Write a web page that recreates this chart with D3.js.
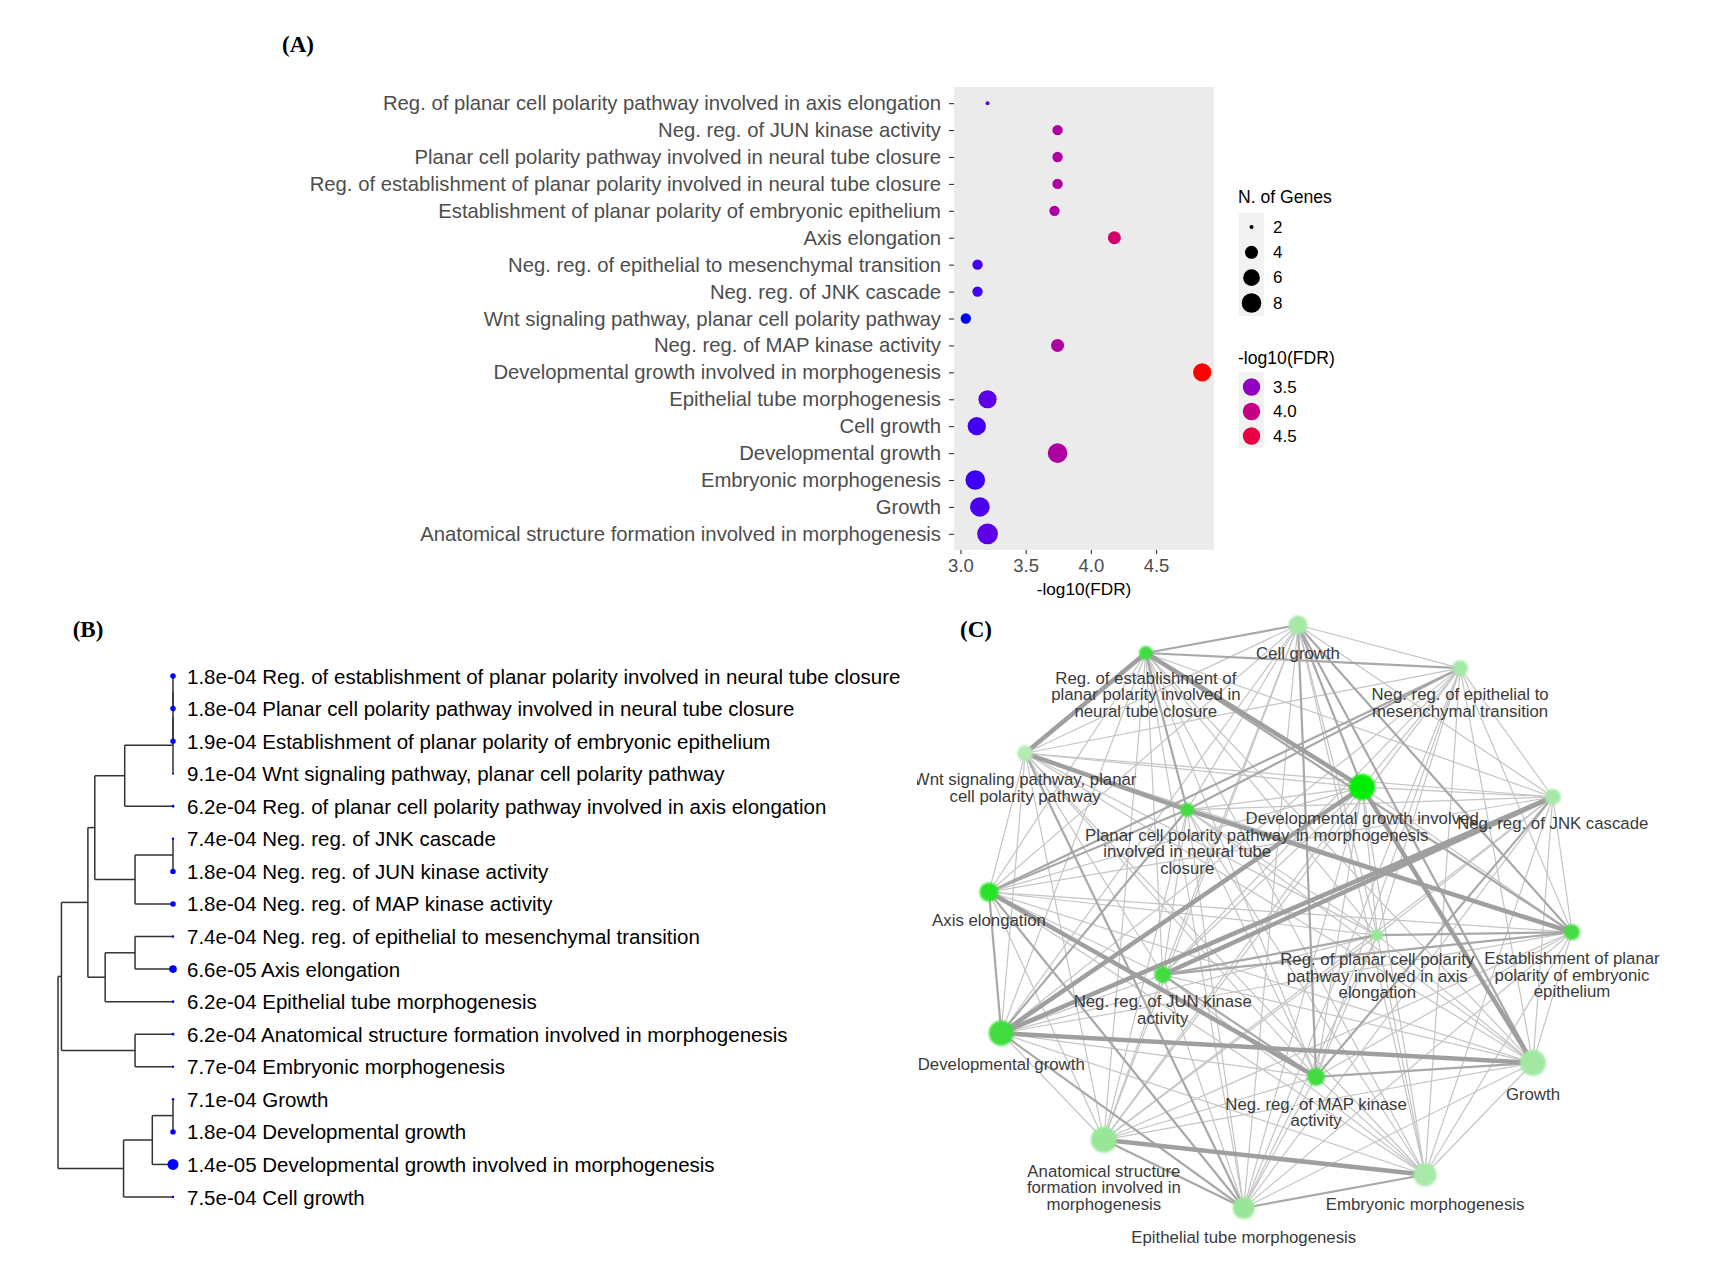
<!DOCTYPE html>
<html>
<head>
<meta charset="utf-8">
<script src="https://cdn.jsdelivr.net/npm/d3@7"></script>
<style>
  html, body { margin: 0; padding: 0; background: #ffffff; }
  svg { display: block; }
</style>
</head>
<body>
<svg id="fig" width="1720" height="1266"></svg>
<script>
// ---------------- DATA ----------------
// GO terms in dendrogram (leaf) order
const terms = [
  "Reg. of establishment of planar polarity involved in neural tube closure",
  "Planar cell polarity pathway involved in neural tube closure",
  "Establishment of planar polarity of embryonic epithelium",
  "Wnt signaling pathway, planar cell polarity pathway",
  "Reg. of planar cell polarity pathway involved in axis elongation",
  "Neg. reg. of JNK cascade",
  "Neg. reg. of JUN kinase activity",
  "Neg. reg. of MAP kinase activity",
  "Neg. reg. of epithelial to mesenchymal transition",
  "Axis elongation",
  "Epithelial tube morphogenesis",
  "Anatomical structure formation involved in morphogenesis",
  "Embryonic morphogenesis",
  "Growth",
  "Developmental growth",
  "Developmental growth involved in morphogenesis",
  "Cell growth"
];
// FDR values (same order as terms)
const fdr = [1.8e-4, 1.8e-4, 1.9e-4, 9.1e-4, 6.2e-4, 7.4e-4, 1.8e-4, 1.8e-4,
             7.4e-4, 6.6e-5, 6.2e-4, 6.2e-4, 7.7e-4, 7.1e-4, 1.8e-4, 1.4e-5, 7.5e-4];
// Number of query genes in each term
const nGenes = [3, 3, 3, 3, 2, 3, 3, 4, 3, 4, 7, 9, 8, 8, 8, 7, 7];
// Estimated gene-set size of each term (network node size)
const geneSetSize = [160, 160, 210, 210, 120, 210, 240, 270, 210, 300, 400, 560, 440, 560, 520, 560, 300];

// Panel A row order (top to bottom)
const dotOrder = [
  "Reg. of planar cell polarity pathway involved in axis elongation",
  "Neg. reg. of JUN kinase activity",
  "Planar cell polarity pathway involved in neural tube closure",
  "Reg. of establishment of planar polarity involved in neural tube closure",
  "Establishment of planar polarity of embryonic epithelium",
  "Axis elongation",
  "Neg. reg. of epithelial to mesenchymal transition",
  "Neg. reg. of JNK cascade",
  "Wnt signaling pathway, planar cell polarity pathway",
  "Neg. reg. of MAP kinase activity",
  "Developmental growth involved in morphogenesis",
  "Epithelial tube morphogenesis",
  "Cell growth",
  "Developmental growth",
  "Embryonic morphogenesis",
  "Growth",
  "Anatomical structure formation involved in morphogenesis"
];
const xTicks = [3.0, 3.5, 4.0, 4.5];
const sizeLegend = [2, 4, 6, 8];
const colorLegend = [3.5, 4.0, 4.5];

// Dendrogram merges (hclust style: negative = leaf index (1-based), positive = earlier merge), height
const merges = [
  [-1, -2, 0], [1, -3, 0], [2, -4, 0], [3, -5, 0.42],
  [-6, -7, 0], [5, -8, 0.33], [4, 6, 0.68],
  [-9, -10, 0.33], [8, -11, 0.59], [7, 9, 0.74],
  [-12, -13, 0.33], [10, 11, 0.97],
  [-14, -15, 0], [13, -16, 0.18], [14, -17, 0.43],
  [12, 15, 1.0]
];

// Network layout coordinates (normalised 0..1), same order as terms
const netX = [0.269, 0.340, 1.000, 0.062, 0.666, 0.967, 0.298, 0.561, 0.808, 0.000, 0.437, 0.197, 0.748, 0.933, 0.021, 0.640, 0.530];
const netY = [0.048, 0.317, 0.527, 0.220, 0.532, 0.295, 0.600, 0.775, 0.074, 0.458, 1.000, 0.883, 0.943, 0.751, 0.700, 0.278, 0.000];
// Edge weights (upper triangle): row i lists weights to nodes i+1 .. 16 (1 weak, 2 medium, 3 strong)
const edgeWeights = [
  [2,2,3,1,1,1,1,2,1,1,1,1,1,1,3,2],
  [3,3,1,1,1,1,2,2,1,1,1,1,2,1,1],
  [1,2,1,2,1,1,1,1,1,1,1,1,1,2],
  [1,1,1,1,1,1,2,1,1,1,1,1,1],
  [1,2,1,1,1,1,1,1,1,1,1,1],
  [3,2,1,1,1,1,1,1,3,1,1],
  [2,1,1,1,1,1,1,1,1,1],
  [1,3,1,1,1,2,1,1,2],
  [2,1,1,1,1,1,1,1],
  [2,1,1,1,2,1,1],
  [2,2,1,2,1,1],
  [3,1,1,1,1],
  [1,1,1,1],
  [3,3,2],
  [3,1],
  [2]
];

// ---------------- DRAW ----------------
const svg = d3.select("#fig");
const SANS = "'Liberation Sans', Arial, Helvetica, sans-serif";
const SERIF = "'Liberation Serif', 'Times New Roman', serif";
const mlog = fdr.map(v => -Math.log10(v));
const idx = name => terms.indexOf(name);

// panel letters
[["(A)", 298, 44], ["(B)", 88, 629], ["(C)", 976, 629]].forEach(([t, x, y]) => {
  svg.append("text").attr("x", x).attr("y", y).attr("text-anchor", "middle")
    .attr("dominant-baseline", "central").attr("font-family", SERIF)
    .attr("font-weight", "bold").attr("font-size", 23).text(t);
});

// ===== Panel A =====
const A = { left: 954, right: 1214, top: 87, bottom: 550 };
const ext = d3.extent(mlog);
const pad = (ext[1] - ext[0]) * 0.05;
const xA = d3.scaleLinear().domain([ext[0] - pad, ext[1] + pad]).range([A.left, A.right]);
const yA = d3.scalePoint().domain(dotOrder).range([A.top, A.bottom]).padding(0.6);
const color = d3.scaleLinear().domain(ext).range(["#0000ff", "#ff0000"]).interpolate(d3.interpolateLab);
const sizeR = n => 2 + 9 * Math.sqrt(Math.max(0, n - 2) / 8);

const gA = svg.append("g");
gA.append("rect").attr("x", A.left).attr("y", A.top).attr("width", A.right - A.left)
  .attr("height", A.bottom - A.top).attr("fill", "#ebebeb");

const axL = gA.append("g").attr("transform", `translate(${A.left},0)`)
  .call(d3.axisLeft(yA).tickSize(5).tickPadding(8));
axL.select(".domain").remove();
axL.selectAll(".tick line").attr("stroke", "#333").attr("stroke-width", 1.1);
axL.selectAll(".tick text").attr("font-family", SANS).attr("font-size", 20.3).attr("fill", "#4d4d4d");

const axB = gA.append("g").attr("transform", `translate(0,${A.bottom})`)
  .call(d3.axisBottom(xA).tickValues(xTicks).tickFormat(d3.format(".1f")).tickSize(4).tickPadding(5));
axB.select(".domain").remove();
axB.selectAll(".tick line").attr("stroke", "#333").attr("stroke-width", 1.1);
axB.selectAll(".tick text").attr("font-family", SANS).attr("font-size", 18.5).attr("fill", "#4d4d4d");

gA.append("text").attr("x", (A.left + A.right) / 2).attr("y", 589).attr("text-anchor", "middle")
  .attr("dominant-baseline", "central").attr("font-family", SANS).attr("font-size", 17.2)
  .text("-log10(FDR)");

gA.selectAll("circle.dot").data(dotOrder).join("circle").attr("class", "dot")
  .attr("cx", d => xA(mlog[idx(d)])).attr("cy", d => yA(d))
  .attr("r", d => sizeR(nGenes[idx(d)])).attr("fill", d => color(mlog[idx(d)]));

// legends
const LG = { x: 1238 };
gA.append("text").attr("x", LG.x).attr("y", 197).attr("dominant-baseline", "central")
  .attr("font-family", SANS).attr("font-size", 17.6).text("N. of Genes");
gA.append("rect").attr("x", 1239).attr("y", 213).attr("width", 25).attr("height", 103).attr("fill", "#f2f2f2");
const ySz = d3.scalePoint().domain(sizeLegend).range([227, 303]);
sizeLegend.forEach(n => {
  gA.append("circle").attr("cx", 1251.5).attr("cy", ySz(n)).attr("r", sizeR(n)).attr("fill", "#000");
  gA.append("text").attr("x", 1273).attr("y", ySz(n)).attr("dominant-baseline", "central")
    .attr("font-family", SANS).attr("font-size", 17).text(n);
});
gA.append("text").attr("x", LG.x).attr("y", 358).attr("dominant-baseline", "central")
  .attr("font-family", SANS).attr("font-size", 17.6).text("-log10(FDR)");
gA.append("rect").attr("x", 1239).attr("y", 372).attr("width", 25).attr("height", 76).attr("fill", "#f2f2f2");
const yCl = d3.scalePoint().domain(colorLegend).range([387, 436]);
colorLegend.forEach(v => {
  gA.append("circle").attr("cx", 1251.5).attr("cy", yCl(v)).attr("r", 8.7).attr("fill", color(v));
  gA.append("text").attr("x", 1273).attr("y", yCl(v)).attr("dominant-baseline", "central")
    .attr("font-family", SANS).attr("font-size", 17).text(d3.format(".1f")(v));
});

// ===== Panel B =====
const gB = svg.append("g");
const yB = d3.scalePoint().domain(d3.range(terms.length)).range([676, 1197]);
const xB = d3.scaleLinear().domain([0, 1]).range([173, 58]);
const tipR = d3.scaleLinear().domain(ext).range([1, 5.5]);
const nodePos = []; // [y, height]
const getPos = k => k < 0 ? [yB(-k - 1), 0] : nodePos[k - 1];
const lineCol = "#333";
merges.forEach(([a, b, h]) => {
  const pa = getPos(a), pb = getPos(b);
  const xh = xB(h);
  gB.append("line").attr("x1", xh).attr("x2", xh).attr("y1", pa[0]).attr("y2", pb[0])
    .attr("stroke", lineCol).attr("stroke-width", 1.5);
  [pa, pb].forEach(p => {
    if (p[1] !== h) {
      gB.append("line").attr("x1", xB(p[1])).attr("x2", xh).attr("y1", p[0]).attr("y2", p[0])
        .attr("stroke", lineCol).attr("stroke-width", 1.5);
    }
  });
  nodePos.push([(pa[0] + pb[0]) / 2, h]);
});
const fmtE = v => v.toExponential(1).replace(/e([+-])(\d)$/, "e$10$2");
terms.forEach((t, i) => {
  gB.append("circle").attr("cx", xB(0)).attr("cy", yB(i)).attr("r", tipR(mlog[i])).attr("fill", "#0000ff");
  gB.append("text").attr("x", 187).attr("y", yB(i)).attr("dominant-baseline", "central")
    .attr("font-family", SANS).attr("font-size", 20.5).attr("fill", "#000")
    .text(fmtE(fdr[i]) + " " + t);
});

// ===== Panel C =====
const defs = svg.append("defs");
defs.append("clipPath").attr("id", "clipC").append("rect")
  .attr("x", 917).attr("y", 590).attr("width", 803).attr("height", 676);
defs.append("filter").attr("id", "soft").attr("x", "-50%").attr("y", "-50%").attr("width", "200%").attr("height", "200%")
  .append("feGaussianBlur").attr("stdDeviation", 1.2);
const gC = svg.append("g").attr("clip-path", "url(#clipC)");
const xC = d3.scaleLinear().domain([0, 1]).range([989, 1572]);
const yC = d3.scaleLinear().domain([0, 1]).range([625, 1208]);
const rC = d3.scaleSqrt().domain([0, d3.max(geneSetSize)]).range([0, 13]);
const nodeCol = d3.scaleLinear().domain([3.04, 3.75, 4.85]).range(["#b4eab4", "#3fdc3f", "#00ee00"]);

const edges = [];
edgeWeights.forEach((row, i) => row.forEach((w, k) => edges.push([i, i + 1 + k, w])));
edges.sort((a, b) => a[2] - b[2]);
const eStyle = { 1: ["#c4c4c4", 1.2], 2: ["#a8a8a8", 2.2], 3: ["#9f9f9f", 4.5] };
gC.selectAll("line.edge").data(edges).join("line").attr("class", "edge")
  .attr("x1", d => xC(netX[d[0]])).attr("y1", d => yC(netY[d[0]]))
  .attr("x2", d => xC(netX[d[1]])).attr("y2", d => yC(netY[d[1]]))
  .attr("stroke", d => eStyle[d[2]][0]).attr("stroke-width", d => eStyle[d[2]][1])
  .attr("stroke-linecap", "round");

terms.forEach((t, i) => {
  gC.append("circle").attr("cx", xC(netX[i])).attr("cy", yC(netY[i])).attr("r", rC(geneSetSize[i]))
    .attr("fill", nodeCol(mlog[i])).attr("filter", "url(#soft)");
});

function wrap(text, width) {
  const words = text.split(" "), lines = [];
  let cur = "";
  words.forEach(w => {
    const cand = cur ? cur + " " + w : w;
    if (cand.length > width && cur) { lines.push(cur); cur = w; } else cur = cand;
  });
  if (cur) lines.push(cur);
  return lines;
}
terms.forEach((t, i) => {
  const lines = wrap(t, 29);
  const cx = xC(netX[i]), y0 = yC(netY[i]) + rC(geneSetSize[i]) + 18.5;
  const txt = gC.append("text").attr("text-anchor", "middle").attr("font-family", SANS)
    .attr("font-size", 16.8).attr("fill", "#3a3a3a");
  lines.forEach((l, j) => {
    txt.append("tspan").attr("x", cx).attr("y", y0 + j * 16.5).attr("dominant-baseline", "central").text(l);
  });
});
</script>
</body>
</html>
